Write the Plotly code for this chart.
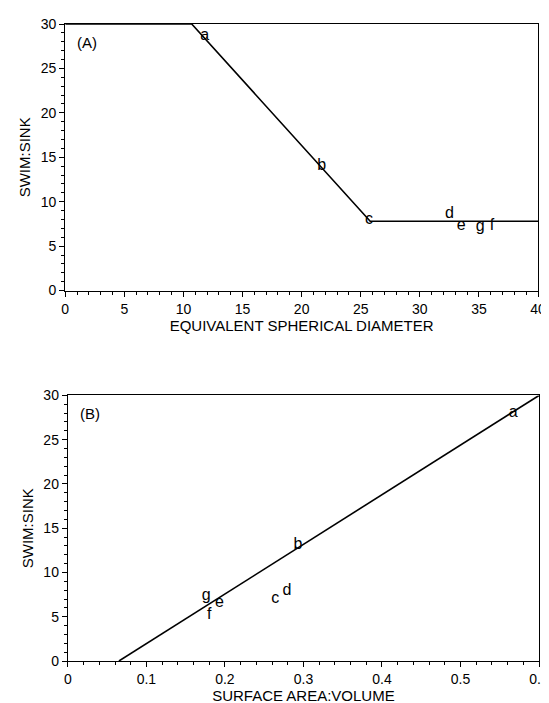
import plotly.graph_objects as go

# ---- data ----
# Panel A: swim:sink vs equivalent spherical diameter
labels_A = ["a", "b", "c", "d", "e", "g", "f"]
esd = [11.8, 21.7, 25.7, 32.5, 33.5, 35.1, 36.1]
swim_sink_A = [28.6, 14.0, 8.0, 8.6, 7.3, 7.2, 7.3]
fit_A_x = [0, 10.7, 25.8, 40]
fit_A_y = [30, 30, 7.8, 7.8]

# Panel B: swim:sink vs surface area:volume
labels_B = ["a", "b", "c", "d", "g", "e", "f"]
sav = [0.567, 0.293, 0.264, 0.279, 0.176, 0.193, 0.180]
swim_sink_B = [28.0, 13.1, 7.0, 7.9, 7.3, 6.5, 5.2]
fit_B_x = [0.065, 0.6]
fit_B_y = [0, 30]

ticks_A_x = [0, 5, 10, 15, 20, 25, 30, 35, 40]
ticks_y = [0, 5, 10, 15, 20, 25, 30]
ticks_B_x = [0, 0.1, 0.2, 0.3, 0.4, 0.5, 0.6]
tick_B_text = ["0", "0.1", "0.2", "0.3", "0.4", "0.5", "0.6"]

FONT = "Liberation Sans, Arial, sans-serif"

fig = go.Figure()
fig.add_trace(go.Scatter(x=fit_A_x, y=fit_A_y, mode="lines",
                         line=dict(color="black", width=1.6),
                         xaxis="x", yaxis="y", showlegend=False))
fig.add_trace(go.Scatter(x=esd, y=swim_sink_A, mode="text", text=labels_A,
                         textposition="middle center",
                         textfont=dict(family=FONT, size=16, color="black"),
                         xaxis="x", yaxis="y", showlegend=False))
fig.add_trace(go.Scatter(x=fit_B_x, y=fit_B_y, mode="lines",
                         line=dict(color="black", width=1.6),
                         xaxis="x2", yaxis="y2", showlegend=False))
fig.add_trace(go.Scatter(x=sav, y=swim_sink_B, mode="text", text=labels_B,
                         textposition="middle center",
                         textfont=dict(family=FONT, size=16, color="black"),
                         xaxis="x2", yaxis="y2", showlegend=False))

axis_common = dict(showline=True, linecolor="black", linewidth=1.3, mirror=True,
                   ticks="outside", ticklen=5, tickwidth=1, tickcolor="black",
                   showgrid=False, zeroline=False,
                   tickfont=dict(family=FONT, size=14, color="black"))

fig.update_layout(
    width=549, height=703,
    margin=dict(l=55, r=8, t=15, b=50),
    paper_bgcolor="white", plot_bgcolor="white",
    font=dict(family=FONT, color="black"),
    xaxis=dict(axis_common, domain=[0.0047, 0.998], range=[0, 40],
               tickvals=ticks_A_x, anchor="y",
               minor=dict(dtick=1, ticks="outside", ticklen=3, tickcolor="black"),
               title=dict(text="EQUIVALENT SPHERICAL DIAMETER", standoff=2,
                          font=dict(family=FONT, size=15, color="black"))),
    yaxis=dict(axis_common, domain=[0.5815, 1.0], range=[0, 30],
               tickvals=ticks_y, anchor="x",
               minor=dict(dtick=1, ticks="outside", ticklen=3, tickcolor="black"),
               title=dict(text="SWIM:SINK", standoff=6,
                          font=dict(family=FONT, size=15, color="black"))),
    xaxis2=dict(axis_common, domain=[0.0103, 1.0], range=[0, 0.6],
                tickvals=ticks_B_x, ticktext=tick_B_text, anchor="y2",
                minor=dict(dtick=0.02, ticks="outside", ticklen=3, tickcolor="black"),
                title=dict(text="SURFACE AREA:VOLUME", standoff=2,
                           font=dict(family=FONT, size=15, color="black"))),
    yaxis2=dict(axis_common, domain=[0.0, 0.4169], range=[0, 30],
                tickvals=ticks_y, anchor="x2",
                minor=dict(dtick=1, ticks="outside", ticklen=3, tickcolor="black"),
                title=dict(text="SWIM:SINK", standoff=6,
                           font=dict(family=FONT, size=15, color="black"))),
    annotations=[
        dict(text="(A)", xref="x domain", yref="y domain", x=0.02, y=0.93,
             xanchor="left", yanchor="middle", showarrow=False,
             font=dict(family=FONT, size=15, color="black")),
        dict(text="(B)", xref="x2 domain", yref="y2 domain", x=0.021, y=0.932,
             xanchor="left", yanchor="middle", showarrow=False,
             font=dict(family=FONT, size=15, color="black")),
    ],
)

fig.write_html("out.html")
